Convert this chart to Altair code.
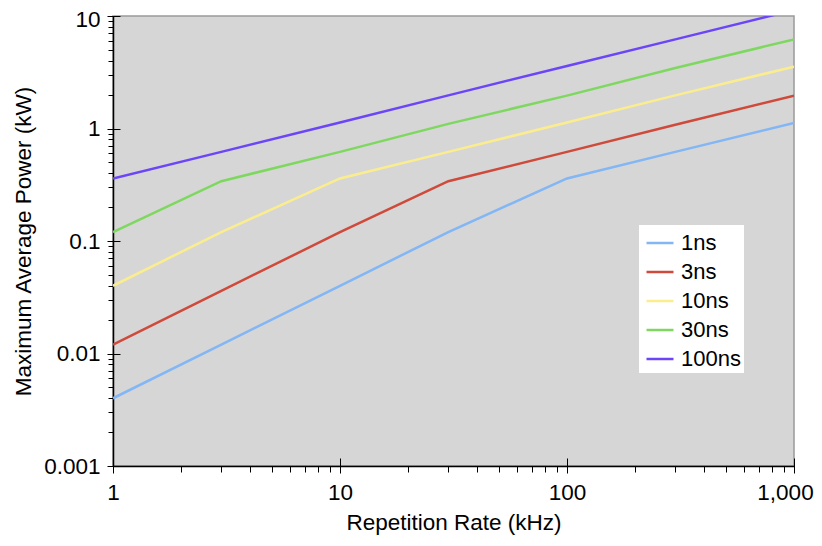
import altair as alt
import pandas as pd

# ---- data ----
rates = [1, 3, 10, 30, 100, 300, 1000]  # kHz
series_names = ["1ns", "3ns", "10ns", "30ns", "100ns"]
p_1ns = [0.004, 0.012, 0.04, 0.12, 0.36, 0.62, 1.12]
p_3ns = [0.012, 0.036, 0.12, 0.34, 0.62, 1.08, 1.96]
p_10ns = [0.04, 0.12, 0.36, 0.62, 1.13, 1.97, 3.55]
p_30ns = [0.12, 0.34, 0.62, 1.1, 1.96, 3.45, 6.2]
p_100ns = [0.36, 0.62, 1.13, 1.97, 3.6, 6.2, 11.3]
series_colors = ["#82b6f5", "#cf4a3a", "#fbed8e", "#7ed860", "#6b45f7"]

x_major = [1, 10, 100, 1000]
y_major = [0.001, 0.01, 0.1, 1, 10]
minor_mult = [2, 3, 4, 5, 6, 7, 8, 9]

x_ticks = sorted(set(x_major + [round(d * m, 6) for d in x_major[:-1] for m in minor_mult]))
y_ticks = sorted(set(y_major + [round(d * m, 6) for d in y_major[:-1] for m in minor_mult]))

rows = []
for name, vals in zip(series_names, [p_1ns, p_3ns, p_10ns, p_30ns, p_100ns]):
    for r, v in zip(rates, vals):
        rows.append({"rate": r, "power": v, "pulse": name})
df = pd.DataFrame(rows)

FONT = "Liberation Sans"
FS = 22.5

x_scale = alt.Scale(type="log", domain=[1, 1000], nice=False)
y_scale = alt.Scale(type="log", domain=[0.001, 10], nice=False)


def is_major(vals):
    return "(" + " || ".join(f"abs(datum.value - {v}) < {v * 1e-6}" for v in vals) + ")"


x_label_expr = f"{is_major(x_major)} ? format(datum.value, ',') : ''"
y_label_expr = f"{is_major(y_major)} ? format(datum.value, '~g') : ''"

lines = alt.Chart(df).mark_line(clip=True, strokeWidth=2.5).encode(
    x=alt.X(
        "rate:Q",
        scale=x_scale,
        axis=alt.Axis(
            orient="bottom",
            values=x_ticks,
            labelExpr=x_label_expr,
            labelFont=FONT,
            labelFontSize=FS,
            labelColor="black",
            labelPadding=9,
            labelFlush=False,
            labelOverlap=False,
            labelOffset={
                "condition": {"test": f"datum.value >= {x_major[-1]}", "value": -9},
                "value": 0,
            },
            tickSize=6,
            tickColor="black",
            tickWidth=1,
            domainColor="black",
            domainWidth=1.5,
            grid=False,
            title="Repetition Rate (kHz)",
            titleFont=FONT,
            titleFontSize=FS,
            titleFontWeight="normal",
            titleColor="black",
            titlePadding=8,
        ),
    ),
    y=alt.Y(
        "power:Q",
        scale=y_scale,
        axis=alt.Axis(
            orient="left",
            values=y_ticks,
            labelExpr=y_label_expr,
            labelFont=FONT,
            labelFontSize=FS,
            labelColor="black",
            labelPadding=8,
            labelFlush=False,
            labelOverlap=False,
            labelOffset={
                "condition": {"test": f"datum.value >= {y_major[-1]}", "value": 3},
                "value": 0,
            },
            tickSize=5,
            tickColor="black",
            tickWidth=1,
            domainColor="black",
            domainWidth=1.5,
            grid=False,
            title="Maximum Average Power (kW)",
            titleFont=FONT,
            titleFontSize=FS,
            titleFontWeight="normal",
            titleColor="black",
            titlePadding=8,
        ),
    ),
    color=alt.Color(
        "pulse:N",
        scale=alt.Scale(domain=series_names, range=series_colors),
        sort=series_names,
        legend=alt.Legend(title=None),
    ),
)

# inward part of the major ticks (second, tick-only axes)
major_ticks = alt.Chart(df).mark_line(opacity=0).encode(
    x=alt.X(
        "rate:Q",
        scale=x_scale,
        title=None,
        axis=alt.Axis(
            orient="bottom",
            values=x_major,
            labels=False,
            domain=False,
            grid=False,
            tickSize=15,
            offset=-8,
            tickColor="black",
            tickWidth=1,
        ),
    ),
    y=alt.Y(
        "power:Q",
        scale=y_scale,
        title=None,
        axis=alt.Axis(
            orient="left",
            values=y_major,
            labels=False,
            domain=False,
            grid=False,
            tickSize=13,
            offset=-7,
            tickColor="black",
            tickWidth=1,
        ),
    ),
)

chart = (
    alt.layer(lines, major_ticks)
    .resolve_scale(x="independent", y="independent")
    .properties(
        width=681,
        height=450,
        autosize=alt.AutoSizeParams(type="none"),
        padding={"left": 105, "top": 8, "right": 20, "bottom": 72},
        background="white",
    )
    .configure_view(fill="#d6d6d6", stroke="#9a9a9a", strokeWidth=1.5)
    .configure_legend(
        orient="none",
        legendX=526,
        legendY=209,
        fillColor="white",
        padding=3,
        rowPadding=3,
        symbolType="stroke",
        symbolSize=729,
        symbolStrokeWidth=2.5,
        symbolOffset=3,
        labelFont=FONT,
        labelFontSize=22,
        labelColor="black",
        labelOffset=6,
    )
)

chart.save("out.html", embed_options={"renderer": "svg", "actions": False})
